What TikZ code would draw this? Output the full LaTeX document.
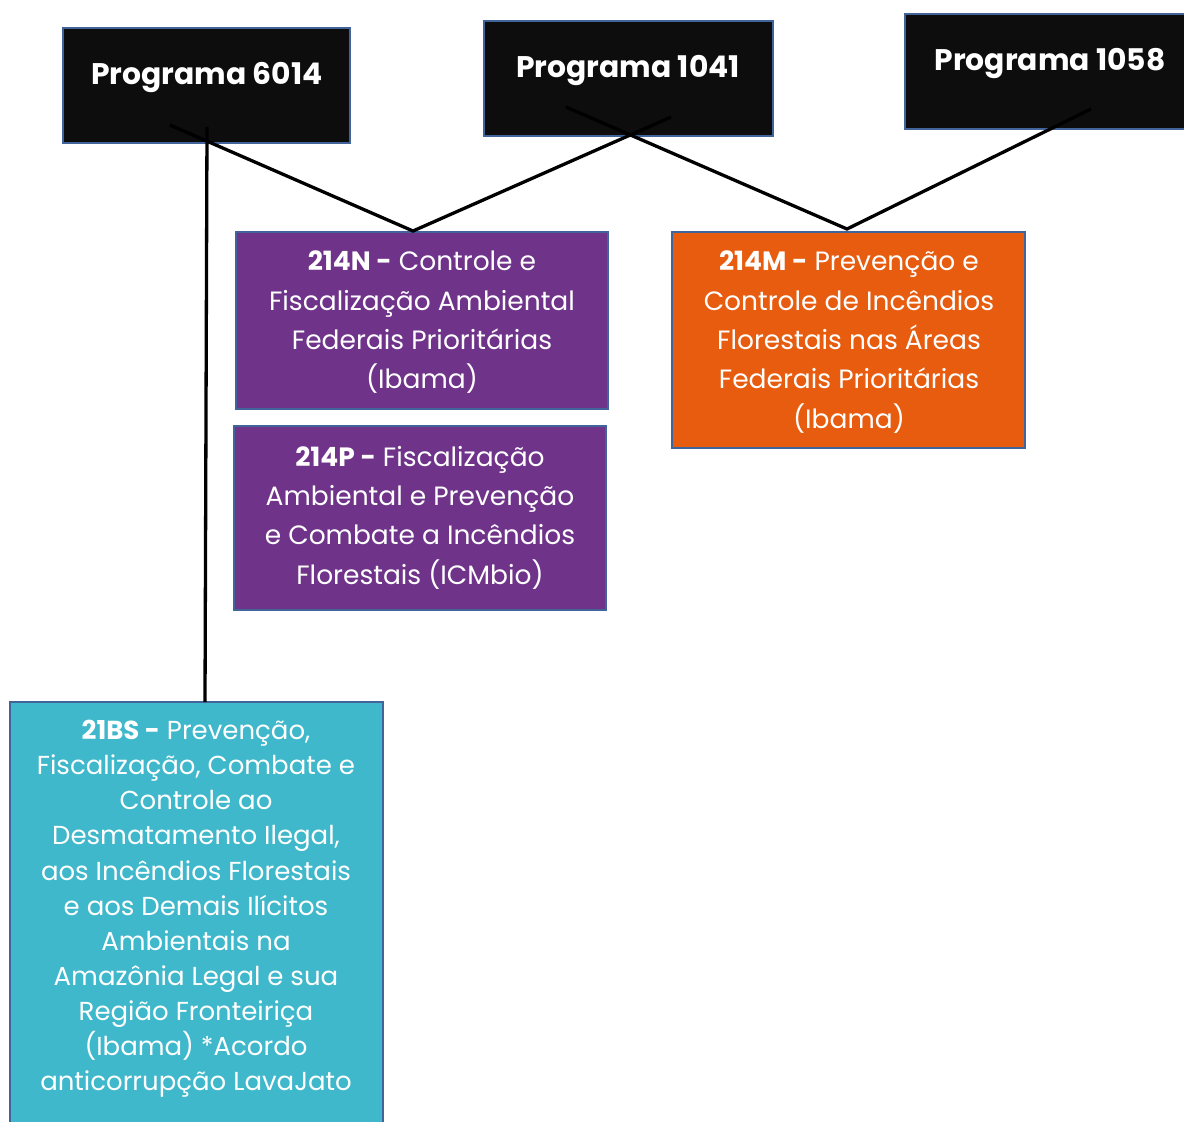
\documentclass[tikz,border=0pt]{standalone}
\usepackage{fontspec}
\setmainfont{Poppins}
\definecolor{progfill}{HTML}{0D0D0D}
\definecolor{boxline}{HTML}{41659A}
\definecolor{purp}{HTML}{6F338A}
\definecolor{orng}{HTML}{E85C0F}
\definecolor{teal}{HTML}{3FB8CB}
\begin{document}
\begin{tikzpicture}[x=1pt,y=-1pt,
  box/.style={draw=boxline,line width=2pt,inner sep=0pt},
  progtxt/.style={text=white,font=\fontsize{29.8}{34}\selectfont\bfseries,inner sep=0pt},
  bodytxt/.style={text=white,align=center,inner sep=0pt,font=\fontsize{26.5}{39.3}\selectfont},
  smalltxt/.style={text=white,align=center,inner sep=0pt,font=\fontsize{26}{35.1}\selectfont},
  conn/.style={line width=3.3pt,black}]
\useasboundingbox (0,0) rectangle (1184,1122);
% program boxes
\path[box,fill=progfill] (63,28) rectangle (350,143);
\path[box,fill=progfill] (484,21) rectangle (773,136);
\path[box,fill=progfill] (905,14) rectangle (1190,129);
\node[progtxt] (t6014) at (207,77) {Programa 6014};
\node[progtxt] (t1041) at (628,70) {Programa 1041};
\node[progtxt] (t1058) at (1050,63) {Programa 1058};
% action boxes
\path[box,fill=purp] (236,232) rectangle (608,409);
\path[box,fill=purp] (234,426) rectangle (606,610);
\path[box,fill=orng] (672,232) rectangle (1025,448);
\path[box,fill=teal] (10,702) rectangle (383,1130);
\node[bodytxt,anchor=north] (n214N) at (422,251) {\textbf{214N -} Controle e\\Fiscalização Ambiental\\Federais Prioritárias\\(Ibama)};
\node[bodytxt,anchor=north] (n214P) at (420,446) {\textbf{214P -} Fiscalização\\Ambiental e Prevenção\\e Combate a Incêndios\\Florestais (ICMbio)};
\node[bodytxt,anchor=north] (n214M) at (849,251) {\textbf{214M -} Prevenção e\\Controle de Incêndios\\Florestais nas Áreas\\Federais Prioritárias\\(Ibama)};
\node[smalltxt,anchor=north] (n21BS) at (196,720) {\textbf{21BS -} Prevenção,\\Fiscalização, Combate e\\Controle ao\\Desmatamento Ilegal,\\aos Incêndios Florestais\\e aos Demais Ilícitos\\Ambientais na\\Amazônia Legal e sua\\Região Fronteiriça\\(Ibama) *Acordo\\anticorrupção LavaJato};
% connector coordinates
\coordinate (a6014) at (170,125);
\coordinate (v6014) at (207,127);
\coordinate (j214N) at (413,231);
\coordinate (a1041) at (671,117);
\coordinate (b1041) at (566,107);
\coordinate (j214M) at (847,229);
\coordinate (a1058) at (1091,109);
\coordinate (j21BS) at (205,702);
\draw[conn] (a6014) -- (j214N) -- (a1041);
\draw[conn] (b1041) -- (j214M) -- (a1058);
\draw[conn] (v6014) -- (j21BS);
\end{tikzpicture}
\end{document}
